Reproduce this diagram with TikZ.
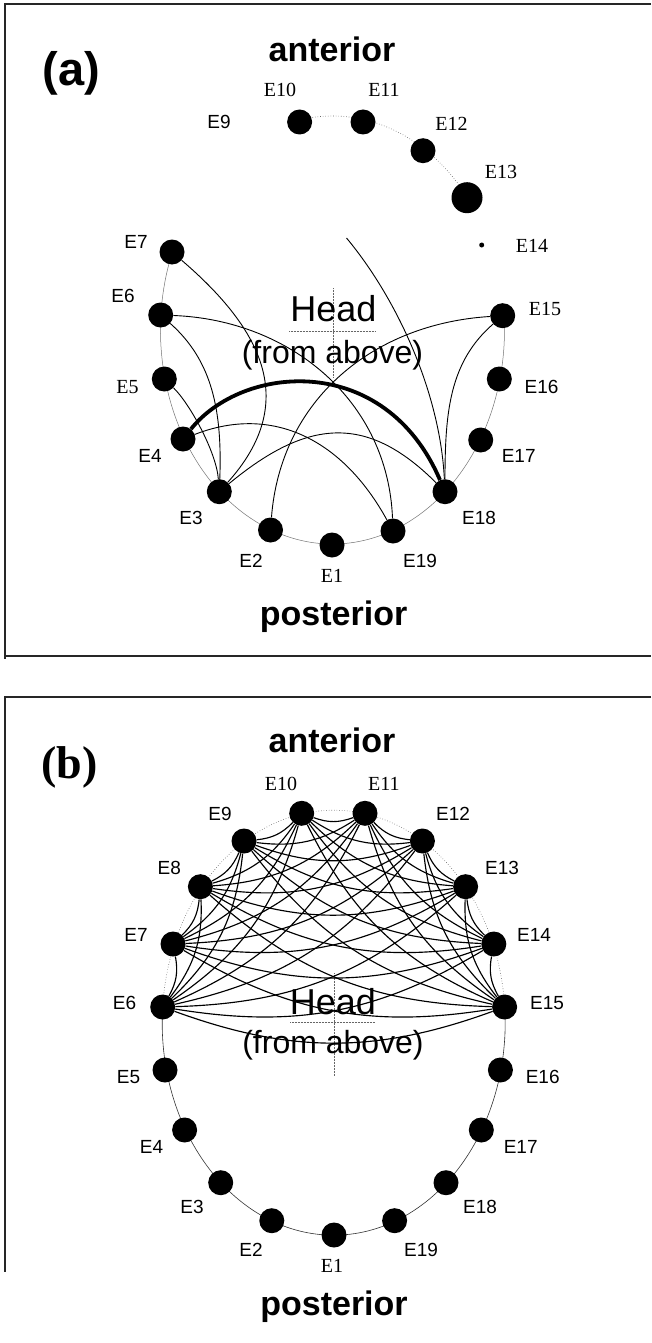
\documentclass[tikz,border=0pt]{standalone}
\usepackage{fontspec}
\setmainfont{Liberation Serif}
\setsansfont{Liberation Sans}
\newfontfamily\helv{Liberation Sans}
\newfontfamily\tms{Liberation Serif}
\begin{document}
\begin{tikzpicture}[x=1pt,y=1pt,
  dot/.style={circle, fill=black, inner sep=0pt, minimum size=25pt},
  sl/.style={font=\fontsize{19}{19}\selectfont\helv, inner sep=0pt},
  rl/.style={font=\fontsize{20}{20}\selectfont\tms, inner sep=0pt},
  heading/.style={font=\fontsize{34}{34}\selectfont\helv\bfseries, inner sep=0pt, anchor=base},
  headtxt/.style={font=\fontsize{36}{36}\selectfont\helv, inner sep=0pt, anchor=base},
  fromtxt/.style={font=\fontsize{32}{32}\selectfont\helv, inner sep=0pt, anchor=base},
  frame/.style={draw=black!85, line width=1.6pt},
  ringA/.style={draw=black!55, line width=0.5pt},
  ringB/.style={draw=black!80, line width=0.6pt},
  dotring/.style={draw=black!60, line width=0.6pt, dotted},
  cross/.style={draw=black!60, line width=0.5pt, densely dotted},
  aedge/.style={draw=black, line width=0.9pt},
  thickedge/.style={draw=black, line width=3.8pt},
  bedge/.style={draw=black, line width=1.15pt}
]
\useasboundingbox (0,0) rectangle (651,-1343);

% ---------- frames ----------
\draw[frame] (651,-4) -- (5,-4) -- (5,-659);
\draw[frame] (5,-656) -- (651,-656);
\draw[frame] (651,-697) -- (5,-697) -- (5,-1272);

% =========================== panel (a) ===========================
\coordinate (ca) at (332.5,-330);
\draw[ringA] (ca) ++(158.7:172 and 214) arc[start angle=158.7, end angle=363.9, x radius=172, y radius=214];
\draw[dotring] (ca) ++(101:172 and 214) arc[start angle=101, end angle=38, x radius=172, y radius=214];
\draw[cross] (333.3,-288) -- (333.3,-377);
\draw[cross] (289,-331) -- (375,-331);

\node[dot] (a1)  at (332,-545) {};
\node[dot] (a2)  at (270.5,-530) {};
\node[dot] (a3)  at (219.3,-491.7) {};
\node[dot] (a4)  at (183,-439) {};
\node[dot] (a5)  at (164.3,-379) {};
\node[dot] (a6)  at (160.7,-315) {};
\node[dot] (a7)  at (172,-252) {};
\node[dot] (a10) at (299.6,-122) {};
\node[dot] (a11) at (363,-122) {};
\node[dot] (a12) at (423,-150.7) {};
\node[dot, minimum size=31pt] (a13) at (467,-197.7) {};
\node[dot, minimum size=5pt] (a14) at (481.7,-245) {};
\node[dot] (a15) at (502.7,-315.7) {};
\node[dot] (a16) at (499.3,-379) {};
\node[dot] (a17) at (480.7,-440) {};
\node[dot] (a18) at (445,-491.7) {};
\node[dot] (a19) at (393,-531) {};
\coordinate (a14end) at (346.5,-238);

% connections
\draw[thickedge] (a4) .. controls +(60,75) and +(-60,140) .. (a18);
\draw[aedge] (a7) .. controls +(91,-78) and +(80,89) .. (a3);
\draw[aedge] (a6) .. controls +(130,-5) and +(-5,130) .. (a19);
\draw[aedge] (a6) .. controls +(52,-46) and +(3,80) .. (a3);
\draw[aedge] (a5) .. controls +(25,-24) and +(-3,40) .. (a3);
\draw[aedge] (a4) .. controls +(90,35) and +(-50,91) .. (a19);
\draw[aedge] (a3) .. controls +(87,72) and +(-79,79) .. (a18);
\draw[aedge] (a2) .. controls +(10,130) and +(-130,-8) .. (a15);
\draw[aedge] (a15) .. controls +(-53,-46) and +(0,80) .. (a18);
\draw[aedge] (a14end) .. controls +(50,-60) and +(-5,100) .. (a18);

% labels
\node[sl] (la9)  at (219,-122) {E9};
\node[rl] (la10) at (280,-90) {E10};
\node[rl] (la11) at (384,-90) {E11};
\node[rl] (la12) at (451.5,-124) {E12};
\node[rl] (la13) at (501,-172) {E13};
\node[rl] (la14) at (532,-245.7) {E14};
\node[rl] (la15) at (545,-309) {E15};
\node[sl] (la7)  at (136,-241.7) {E7};
\node[sl] (la6)  at (123,-296) {E6};
\node[rl] (la5)  at (127.4,-387) {E5};
\node[sl] (la16) at (541.5,-387) {E16};
\node[sl] (la4)  at (150,-455.7) {E4};
\node[sl] (la17) at (518.7,-455.7) {E17};
\node[sl] (la3)  at (191,-518) {E3};
\node[sl] (la18) at (479,-518) {E18};
\node[sl] (la2)  at (251,-560.7) {E2};
\node[sl] (la19) at (420,-560.7) {E19};
\node[rl] (la1)  at (332,-576) {E1};

\node[font=\fontsize{47}{47}\selectfont\helv\bfseries, inner sep=0pt] (tagA) at (71.6,-73.5) {(a)};
\node[heading] (antA) at (332,-61.7) {anterior};
\node[heading] (posA) at (333.6,-625) {posterior};
\node[headtxt] (headA) at (333.3,-321.7) {Head};
\node[fromtxt] (fromA) at (332.5,-363.3) {(from above)};

% =========================== panel (b) ===========================
\coordinate (cb) at (333.7,-1022.7);
\draw[ringB] (cb) ++(175.8:171.5 and 212.5) arc[start angle=175.8, end angle=364.2, x radius=171.5, y radius=212.5];
\draw[dotring] (cb) ++(4.2:171.5 and 212.5) arc[start angle=4.2, end angle=175.8, x radius=171.5, y radius=212.5];
\draw[cross] (334,-973) -- (334,-1076);
\draw[cross] (290,-1022.7) -- (375.5,-1022.7);

\node[dot] (b1)  at (334,-1235) {};
\node[dot] (b2)  at (271.8,-1220.7) {};
\node[dot] (b3)  at (220.7,-1182.7) {};
\node[dot] (b4)  at (184.6,-1130) {};
\node[dot] (b5)  at (165,-1070) {};
\node[dot] (b6)  at (162.7,-1007) {};
\node[dot] (b7)  at (173,-944) {};
\node[dot] (b8)  at (200.4,-886.7) {};
\node[dot] (b9)  at (244,-841) {};
\node[dot] (b10) at (301.7,-813.3) {};
\node[dot] (b11) at (365,-813.3) {};
\node[dot] (b12) at (422.4,-841) {};
\node[dot] (b13) at (465.6,-886.7) {};
\node[dot] (b14) at (493.8,-944) {};
\node[dot] (b15) at (504.6,-1007) {};
\node[dot] (b16) at (500.4,-1070) {};
\node[dot] (b17) at (481.3,-1130) {};
\node[dot] (b18) at (446,-1182.7) {};
\node[dot] (b19) at (394.6,-1220.7) {};

% every pair among E6..E15, each arc bowing toward the middle of the head
\foreach \i in {6,...,14}{
  \pgfmathtruncatemacro\nxt{\i+1}
  \foreach \j in {\nxt,...,15}{
    \draw[bedge] (b\i) to[bend right=20] (b\j);
  }
}

\node[rl] (lb10) at (281,-784) {E10};
\node[rl] (lb11) at (383.8,-784) {E11};
\node[sl] (lb9)  at (220,-814.3) {E9};
\node[sl] (lb12) at (453,-814.3) {E12};
\node[sl] (lb8)  at (169.3,-868.3) {E8};
\node[sl] (lb13) at (502,-868.3) {E13};
\node[sl] (lb7)  at (136,-935) {E7};
\node[sl] (lb14) at (534,-935) {E14};
\node[sl] (lb6)  at (124.5,-1003) {E6};
\node[sl] (lb15) at (547,-1003) {E15};
\node[sl] (lb5)  at (128.6,-1077.3) {E5};
\node[sl] (lb16) at (542.7,-1077.3) {E16};
\node[sl] (lb4)  at (151.5,-1146.7) {E4};
\node[sl] (lb17) at (520.7,-1146.7) {E17};
\node[sl] (lb3)  at (192,-1207.3) {E3};
\node[sl] (lb18) at (480,-1207.3) {E18};
\node[sl] (lb2)  at (251,-1250) {E2};
\node[sl] (lb19) at (421,-1250) {E19};
\node[rl] (lb1)  at (332,-1266) {E1};

\node[font=\fontsize{46}{46}\selectfont\tms\bfseries, inner sep=0pt] (tagB) at (69.5,-767) {(b)};
\node[heading] (antB) at (332,-752.7) {anterior};
\node[heading] (posB) at (334,-1315) {posterior};
\node[headtxt] (headB) at (333,-1014.5) {Head};
\node[fromtxt] (fromB) at (333,-1053.3) {(from above)};
\end{tikzpicture}
\end{document}
